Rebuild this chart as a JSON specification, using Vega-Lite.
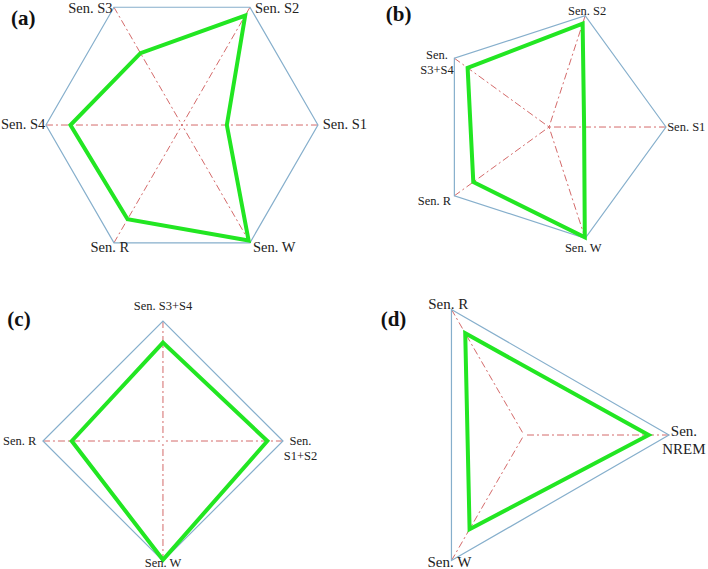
{
  "$schema": "https://vega.github.io/schema/vega-lite/v6.json",
  "padding": 0,
  "bounds": "flush",
  "spacing": 0,
  "columns": 2,
  "background": "white",
  "config": {"view": {"stroke": null}, "text": {"font": "Liberation Serif", "color": "#222222", "lineBreak": "\n"}},
  "datasets": {
    "radar": [
      {"panel": "a", "axis": "Sen. S1", "idx": 0, "n": 6, "value": 0.33},
      {"panel": "a", "axis": "Sen. S2", "idx": 1, "n": 6, "value": 0.93},
      {"panel": "a", "axis": "Sen. S3", "idx": 2, "n": 6, "value": 0.61},
      {"panel": "a", "axis": "Sen. S4", "idx": 3, "n": 6, "value": 0.82},
      {"panel": "a", "axis": "Sen. R", "idx": 4, "n": 6, "value": 0.80},
      {"panel": "a", "axis": "Sen. W", "idx": 5, "n": 6, "value": 0.98},
      {"panel": "b", "axis": "Sen. S1", "idx": 0, "n": 5, "value": 0.30},
      {"panel": "b", "axis": "Sen. S2", "idx": 1, "n": 5, "value": 0.93},
      {"panel": "b", "axis": "Sen.\nS3+S4", "idx": 2, "n": 5, "value": 0.86},
      {"panel": "b", "axis": "Sen. R", "idx": 3, "n": 5, "value": 0.80},
      {"panel": "b", "axis": "Sen. W", "idx": 4, "n": 5, "value": 0.99},
      {"panel": "c", "axis": "Sen.\nS1+S2", "idx": 0, "n": 4, "value": 0.87},
      {"panel": "c", "axis": "Sen. S3+S4", "idx": 1, "n": 4, "value": 0.82},
      {"panel": "c", "axis": "Sen. R", "idx": 2, "n": 4, "value": 0.76},
      {"panel": "c", "axis": "Sen. W", "idx": 3, "n": 4, "value": 0.99},
      {"panel": "d", "axis": "Sen.\nNREM", "idx": 0, "n": 3, "value": 0.86},
      {"panel": "d", "axis": "Sen. R", "idx": 1, "n": 3, "value": 0.81},
      {"panel": "d", "axis": "Sen. W", "idx": 2, "n": 3, "value": 0.75}
    ]
  },
  "concat": [
        {
          "width": 354, "height": 260,
          "data": {"name": "radar"},
          "transform": [
            {"filter": "datum.panel == 'a'"},
            {"calculate": "2 * PI * datum.idx / datum.n", "as": "ang"},
            {"calculate": "cos(datum.ang)", "as": "cx"},
            {"calculate": "sin(datum.ang)", "as": "cy"},
            {"calculate": "datum.value * datum.cx", "as": "gx"},
            {"calculate": "datum.value * datum.cy", "as": "gy"},
            {"calculate": "datum.idx == 4 ? 'center' : (datum.cx > 0 ? 'left' : 'right')", "as": "al"},
            {"calculate": "datum.cx + (datum.idx == 0 ? 0.035 : datum.idx == 1 ? 0.037 : datum.idx == 2 ? -0.01 : datum.idx == 3 ? -0.005 : datum.idx == 4 ? -0.03 : 0.022)", "as": "lx"},
            {"calculate": "datum.cy + (datum.idx >= 4 ? -0.035 : (datum.idx == 1 || datum.idx == 2) ? -0.01 : 0)", "as": "ly"}
          ],
          "layer": [
            {"mark": {"type": "rule", "color": "#d46a6a", "strokeWidth": 1, "strokeDash": [7, 3, 2, 3]},
             "encoding": {"x": {"field": "cx", "type": "quantitative", "scale": {"domain": [-1.338, 1.265], "nice": false, "zero": false}, "axis": null},
                          "y": {"field": "cy", "type": "quantitative", "scale": {"domain": [-1.0, 0.912], "nice": false, "zero": false}, "axis": null},
                          "x2": {"datum": 0}, "y2": {"datum": 0}}},
            {"mark": {"type": "line", "interpolate": "linear-closed", "color": "#86afcc", "strokeWidth": 1.2},
             "encoding": {"x": {"field": "cx", "type": "quantitative", "scale": {"domain": [-1.338, 1.265], "nice": false, "zero": false}, "axis": null},
                          "y": {"field": "cy", "type": "quantitative", "scale": {"domain": [-1.0, 0.912], "nice": false, "zero": false}, "axis": null},
                          "order": {"field": "idx"}}},
            {"mark": {"type": "line", "interpolate": "linear-closed", "color": "#22e622", "strokeWidth": 4},
             "encoding": {"x": {"field": "gx", "type": "quantitative", "scale": {"domain": [-1.338, 1.265], "nice": false, "zero": false}, "axis": null},
                          "y": {"field": "gy", "type": "quantitative", "scale": {"domain": [-1.0, 0.912], "nice": false, "zero": false}, "axis": null},
                          "order": {"field": "idx"}}},
            {"mark": {"type": "text", "fontSize": 14.5, "align": {"expr": "datum.al"}, "baseline": "middle"},
             "encoding": {"x": {"field": "lx", "type": "quantitative", "scale": {"domain": [-1.338, 1.265], "nice": false, "zero": false}, "axis": null},
                          "y": {"field": "ly", "type": "quantitative", "scale": {"domain": [-1.0, 0.912], "nice": false, "zero": false}, "axis": null},
                          "text": {"field": "axis"}}},
            {"data": {"values": [{"letter": "(a)"}]},
             "mark": {"type": "text", "fontSize": 21, "fontWeight": "bold", "align": "left", "baseline": "middle", "color": "#111111"},
             "encoding": {"x": {"datum": -1.257, "type": "quantitative", "scale": {"domain": [-1.338, 1.265], "nice": false, "zero": false}, "axis": null},
                          "y": {"datum": 0.783, "type": "quantitative", "scale": {"domain": [-1.0, 0.912], "nice": false, "zero": false}, "axis": null},
                          "text": {"field": "letter"}}}
          ]
        },
        {
          "width": 354, "height": 260,
          "data": {"name": "radar"},
          "transform": [
            {"filter": "datum.panel == 'b'"},
            {"calculate": "2 * PI * datum.idx / datum.n", "as": "ang"},
            {"calculate": "cos(datum.ang)", "as": "cx"},
            {"calculate": "sin(datum.ang)", "as": "cy"},
            {"calculate": "datum.value * datum.cx", "as": "gx"},
            {"calculate": "datum.value * datum.cy", "as": "gy"},
            {"calculate": "datum.idx == 0 ? 'left' : datum.idx == 3 ? 'right' : 'center'", "as": "al"},
            {"calculate": "datum.cx + (datum.idx == 0 ? 0.01 : datum.idx == 1 ? 0.017 : datum.idx == 2 ? -0.148 : datum.idx == 3 ? -0.028 : -0.017)", "as": "lx"},
            {"calculate": "datum.cy + (datum.idx == 1 ? 0.043 : datum.idx == 2 ? 0.029 : datum.idx == 3 ? -0.043 : datum.idx == 4 ? -0.085 : 0)", "as": "ly"}
          ],
          "layer": [
            {"mark": {"type": "rule", "color": "#d46a6a", "strokeWidth": 1, "strokeDash": [7, 3, 2, 3]},
             "encoding": {"x": {"field": "cx", "type": "quantitative", "scale": {"domain": [-1.667, 1.359], "nice": false, "zero": false}, "axis": null},
                          "y": {"field": "cy", "type": "quantitative", "scale": {"domain": [-1.145, 1.077], "nice": false, "zero": false}, "axis": null},
                          "x2": {"datum": 0}, "y2": {"datum": 0}}},
            {"mark": {"type": "line", "interpolate": "linear-closed", "color": "#86afcc", "strokeWidth": 1.2},
             "encoding": {"x": {"field": "cx", "type": "quantitative", "scale": {"domain": [-1.667, 1.359], "nice": false, "zero": false}, "axis": null},
                          "y": {"field": "cy", "type": "quantitative", "scale": {"domain": [-1.145, 1.077], "nice": false, "zero": false}, "axis": null},
                          "order": {"field": "idx"}}},
            {"mark": {"type": "line", "interpolate": "linear-closed", "color": "#22e622", "strokeWidth": 4},
             "encoding": {"x": {"field": "gx", "type": "quantitative", "scale": {"domain": [-1.667, 1.359], "nice": false, "zero": false}, "axis": null},
                          "y": {"field": "gy", "type": "quantitative", "scale": {"domain": [-1.145, 1.077], "nice": false, "zero": false}, "axis": null},
                          "order": {"field": "idx"}}},
            {"mark": {"type": "text", "fontSize": 12.5, "lineHeight": 15, "align": {"expr": "datum.al"}, "baseline": "middle"},
             "encoding": {"x": {"field": "lx", "type": "quantitative", "scale": {"domain": [-1.667, 1.359], "nice": false, "zero": false}, "axis": null},
                          "y": {"field": "ly", "type": "quantitative", "scale": {"domain": [-1.145, 1.077], "nice": false, "zero": false}, "axis": null},
                          "text": {"field": "axis"}}},
            {"data": {"values": [{"letter": "(b)"}]},
             "mark": {"type": "text", "fontSize": 21, "fontWeight": "bold", "align": "left", "baseline": "middle", "color": "#111111"},
             "encoding": {"x": {"datum": -1.396, "type": "quantitative", "scale": {"domain": [-1.667, 1.359], "nice": false, "zero": false}, "axis": null},
                          "y": {"datum": 0.957, "type": "quantitative", "scale": {"domain": [-1.145, 1.077], "nice": false, "zero": false}, "axis": null},
                          "text": {"field": "letter"}}}
          ]
        },
        {
          "width": 354, "height": 309,
          "data": {"name": "radar"},
          "transform": [
            {"filter": "datum.panel == 'c'"},
            {"calculate": "2 * PI * datum.idx / datum.n", "as": "ang"},
            {"calculate": "cos(datum.ang)", "as": "cx"},
            {"calculate": "sin(datum.ang)", "as": "cy"},
            {"calculate": "datum.value * datum.cx", "as": "gx"},
            {"calculate": "datum.value * datum.cy", "as": "gy"},
            {"calculate": "datum.idx == 2 ? 'right' : 'center'", "as": "al"},
            {"calculate": "datum.cx + (datum.idx == 0 ? 0.146 : datum.idx == 2 ? -0.055 : 0)", "as": "lx"},
            {"calculate": "datum.cy + (datum.idx == 0 ? 0 : datum.idx == 1 ? 0.125 : datum.idx == 3 ? -0.014 : 0)", "as": "ly"}
          ],
          "layer": [
            {"mark": {"type": "rule", "color": "#d46a6a", "strokeWidth": 1, "strokeDash": [7, 3, 2, 3]},
             "encoding": {"x": {"field": "cx", "type": "quantitative", "scale": {"domain": [-1.358, 1.592], "nice": false, "zero": false}, "axis": null},
                          "y": {"field": "cy", "type": "quantitative", "scale": {"domain": [-1.075, 1.5], "nice": false, "zero": false}, "axis": null},
                          "x2": {"datum": 0}, "y2": {"datum": 0}}},
            {"mark": {"type": "line", "interpolate": "linear-closed", "color": "#86afcc", "strokeWidth": 1.2},
             "encoding": {"x": {"field": "cx", "type": "quantitative", "scale": {"domain": [-1.358, 1.592], "nice": false, "zero": false}, "axis": null},
                          "y": {"field": "cy", "type": "quantitative", "scale": {"domain": [-1.075, 1.5], "nice": false, "zero": false}, "axis": null},
                          "order": {"field": "idx"}}},
            {"mark": {"type": "line", "interpolate": "linear-closed", "color": "#22e622", "strokeWidth": 4},
             "encoding": {"x": {"field": "gx", "type": "quantitative", "scale": {"domain": [-1.358, 1.592], "nice": false, "zero": false}, "axis": null},
                          "y": {"field": "gy", "type": "quantitative", "scale": {"domain": [-1.075, 1.5], "nice": false, "zero": false}, "axis": null},
                          "order": {"field": "idx"}}},
            {"mark": {"type": "text", "fontSize": 12.5, "lineHeight": 15, "align": {"expr": "datum.al"}, "baseline": "middle"},
             "encoding": {"x": {"field": "lx", "type": "quantitative", "scale": {"domain": [-1.358, 1.592], "nice": false, "zero": false}, "axis": null},
                          "y": {"field": "ly", "type": "quantitative", "scale": {"domain": [-1.075, 1.5], "nice": false, "zero": false}, "axis": null},
                          "text": {"field": "axis"}}},
            {"data": {"values": [{"letter": "(c)"}]},
             "mark": {"type": "text", "fontSize": 21, "fontWeight": "bold", "align": "left", "baseline": "middle", "color": "#111111"},
             "encoding": {"x": {"datum": -1.297, "type": "quantitative", "scale": {"domain": [-1.358, 1.592], "nice": false, "zero": false}, "axis": null},
                          "y": {"datum": 1.008, "type": "quantitative", "scale": {"domain": [-1.075, 1.5], "nice": false, "zero": false}, "axis": null},
                          "text": {"field": "letter"}}}
          ]
        },
        {
          "width": 354, "height": 309,
          "data": {"name": "radar"},
          "transform": [
            {"filter": "datum.panel == 'd'"},
            {"calculate": "2 * PI * datum.idx / datum.n", "as": "ang"},
            {"calculate": "cos(datum.ang)", "as": "cx"},
            {"calculate": "sin(datum.ang)", "as": "cy"},
            {"calculate": "datum.value * datum.cx", "as": "gx"},
            {"calculate": "datum.value * datum.cy", "as": "gy"},
            {"calculate": "'center'", "as": "al"},
            {"calculate": "datum.cx + (datum.idx == 0 ? 0.103 : datum.idx == 1 ? -0.022 : -0.014)", "as": "lx"},
            {"calculate": "datum.cy + (datum.idx == 0 ? 0.028 : datum.idx == 1 ? 0.037 : -0.012)", "as": "ly"}
          ],
          "layer": [
            {"mark": {"type": "rule", "color": "#d46a6a", "strokeWidth": 1, "strokeDash": [7, 3, 2, 3]},
             "encoding": {"x": {"field": "cx", "type": "quantitative", "scale": {"domain": [-1.172, 1.269], "nice": false, "zero": false}, "axis": null},
                          "y": {"field": "cy", "type": "quantitative", "scale": {"domain": [-0.931, 1.2], "nice": false, "zero": false}, "axis": null},
                          "x2": {"datum": 0}, "y2": {"datum": 0}}},
            {"mark": {"type": "line", "interpolate": "linear-closed", "color": "#86afcc", "strokeWidth": 1.2},
             "encoding": {"x": {"field": "cx", "type": "quantitative", "scale": {"domain": [-1.172, 1.269], "nice": false, "zero": false}, "axis": null},
                          "y": {"field": "cy", "type": "quantitative", "scale": {"domain": [-0.931, 1.2], "nice": false, "zero": false}, "axis": null},
                          "order": {"field": "idx"}}},
            {"mark": {"type": "line", "interpolate": "linear-closed", "color": "#22e622", "strokeWidth": 4},
             "encoding": {"x": {"field": "gx", "type": "quantitative", "scale": {"domain": [-1.172, 1.269], "nice": false, "zero": false}, "axis": null},
                          "y": {"field": "gy", "type": "quantitative", "scale": {"domain": [-0.931, 1.2], "nice": false, "zero": false}, "axis": null},
                          "order": {"field": "idx"}}},
            {"mark": {"type": "text", "fontSize": 15, "lineHeight": 18, "align": {"expr": "datum.al"}, "baseline": "middle"},
             "encoding": {"x": {"field": "lx", "type": "quantitative", "scale": {"domain": [-1.172, 1.269], "nice": false, "zero": false}, "axis": null},
                          "y": {"field": "ly", "type": "quantitative", "scale": {"domain": [-0.931, 1.2], "nice": false, "zero": false}, "axis": null},
                          "text": {"field": "axis"}}},
            {"data": {"values": [{"letter": "(d)"}]},
             "mark": {"type": "text", "fontSize": 21, "fontWeight": "bold", "align": "left", "baseline": "middle", "color": "#111111"},
             "encoding": {"x": {"datum": -0.988, "type": "quantitative", "scale": {"domain": [-1.172, 1.269], "nice": false, "zero": false}, "axis": null},
                          "y": {"datum": 0.793, "type": "quantitative", "scale": {"domain": [-0.931, 1.2], "nice": false, "zero": false}, "axis": null},
                          "text": {"field": "letter"}}}
          ]
        }
  ]
}
